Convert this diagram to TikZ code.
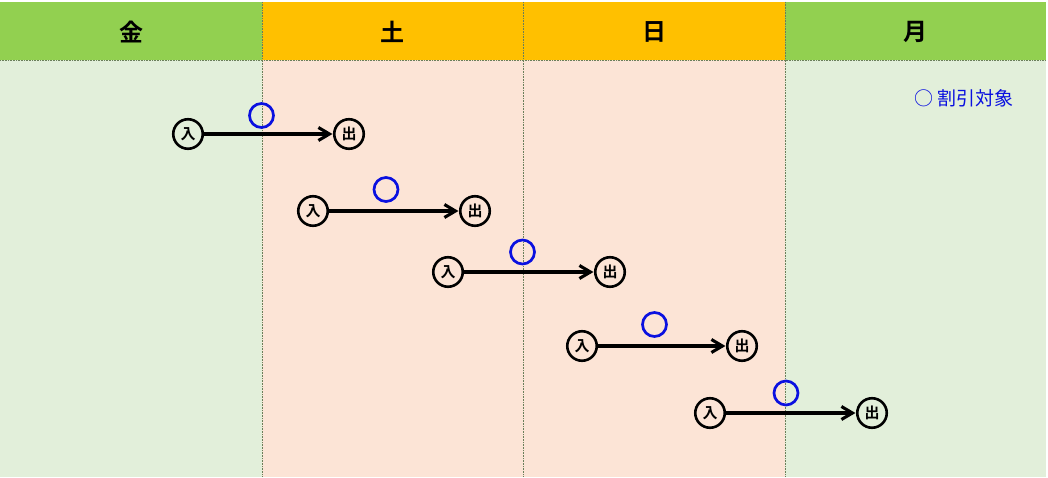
\documentclass[tikz,border=0pt]{standalone}
\usepackage{fontspec}
\usetikzlibrary{arrows.meta}
\newfontfamily\jpb{Noto Sans CJK JP Bold}
\newfontfamily\jp{Noto Sans CJK JP}
\definecolor{hgreen}{HTML}{92D050}
\definecolor{horange}{HTML}{FFC000}
\definecolor{bgreen}{HTML}{E2EFDA}
\definecolor{bpeach}{HTML}{FCE4D6}
\definecolor{dotc}{HTML}{6A7F5A}
\definecolor{disc}{HTML}{0A10E0}
\begin{document}
\begin{tikzpicture}[x=1pt,y=-1pt,
  daylabel/.style={font=\jpb\fontsize{24}{24}\selectfont, text=black},
  io/.style={circle, draw=black, line width=2.6pt, minimum size=29.5pt, inner sep=0pt, font=\jpb\fontsize{15}{15}\selectfont},
  stay/.style={-{Straight Barb[length=11pt,width=13pt]}, line width=3.1pt, black, shorten >=0.5pt},
  dmark/.style={circle, draw=disc, line width=2.7pt, minimum size=24pt, inner sep=0pt},
  sep/.style={densely dotted, draw=dotc, line width=0.6pt}]
\useasboundingbox (0,0) rectangle (1048,478);
\fill[white] (0,0) rectangle (1048,478);
% headers
\fill[hgreen] (0,2) rectangle (262,60);
\fill[horange] (262,2) rectangle (785,60);
\fill[hgreen] (785,2) rectangle (1046,60);
% bodies
\fill[bgreen] (0,60) rectangle (262,477);
\fill[bpeach] (262,60) rectangle (785,477);
\fill[bgreen] (785,60) rectangle (1046,477);
% separators
\draw[sep] (0,60) -- (1046,60);
\foreach \x in {262,523,785} \draw[sep] (\x,2) -- (\x,477);
% labels
\node[daylabel] (fri) at (131,32) {金};
\node[daylabel] (sat) at (392,32) {土};
\node[daylabel] (sun) at (654,32) {日};
\node[daylabel] (mon) at (915,32) {月};
\node[font=\jp\fontsize{19}{19}\selectfont, text=disc, anchor=west, inner sep=0pt] (legend) at (914,98) {○ 割引対象};
% rows
\foreach \n/\xa/\xb/\xc/\y/\yc in {1/188/349/261.5/134/115.5, 2/313/475/386/211/189.5, 3/448/610/522.5/272/252, 4/582/742/654.5/346/324.5, 5/710/872/786/413/393} {
  \node[dmark] (d\n) at (\xc,\yc) {};
  \node[io] (in\n) at (\xa,\y) {入};
  \node[io] (out\n) at (\xb,\y) {出};
  \draw[stay] (in\n) -- (out\n);
}
\end{tikzpicture}
\end{document}
